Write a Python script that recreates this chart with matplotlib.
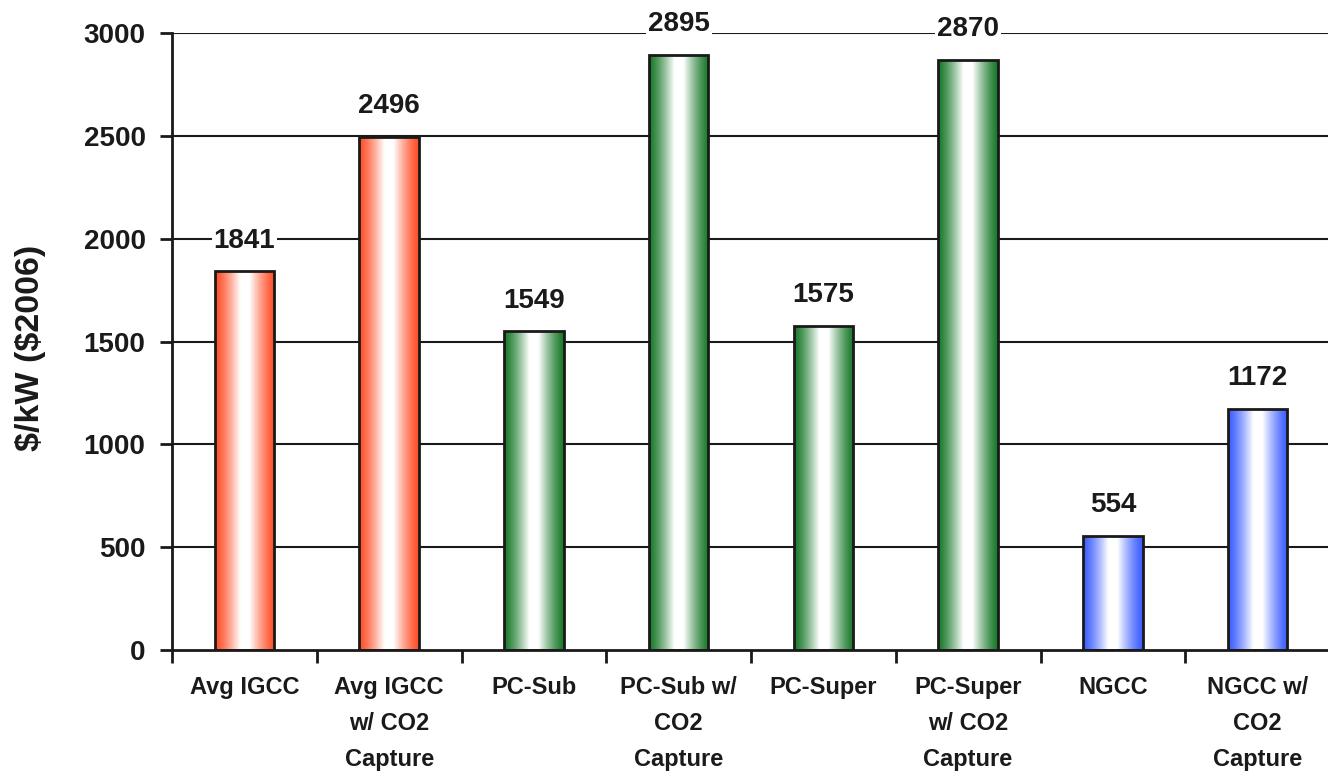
import numpy as np
import matplotlib
matplotlib.use("Agg")
import matplotlib.pyplot as plt
from matplotlib.colors import LinearSegmentedColormap

categories = ["Avg IGCC", "Avg IGCC\nw/ CO2\nCapture", "PC-Sub", "PC-Sub w/\nCO2\nCapture",
              "PC-Super", "PC-Super\nw/ CO2\nCapture", "NGCC", "NGCC w/\nCO2\nCapture"]
values = [1841, 2496, 1549, 2895, 1575, 2870, 554, 1172]
bar_colors = ["#ff4f28", "#ff4f28", "#1a7a2a", "#1a7a2a", "#1a7a2a", "#1a7a2a", "#3d5eff", "#3d5eff"]
yticks = [0, 500, 1000, 1500, 2000, 2500, 3000]

plt.rcParams['font.family'] = ['Liberation Sans', 'DejaVu Sans']
plt.rcParams['font.weight'] = 'bold'

fig = plt.figure(figsize=(13.28, 7.74), dpi=100)
ax = fig.add_axes([172/1328, 1 - 650/774, (1330-172)/1328, (650-33)/774])

n = len(categories)
x = np.arange(n)
width = 0.41
ax.set_xlim(-0.5, n - 0.5)
ax.set_ylim(0, 3000)

for yv in yticks[1:]:
    ax.axhline(yv, color="#1a1a1a", lw=1.5, zorder=0.5)

t = np.linspace(0, 1, 101)
grad = 1 - np.abs(t - 0.5) / 0.5          # 0 at edges, 1 at centre
grad = np.clip(grad / 0.85, 0, 1) ** 1.3
grad = grad.reshape(1, -1)
for xi, v, c in zip(x, values, bar_colors):
    cmap = LinearSegmentedColormap.from_list("g", [c, "#ffffff"])
    bars = ax.bar(xi, v, width=width, facecolor="none", edgecolor="#1a1a1a", lw=2, zorder=3)
    im = ax.imshow(grad, cmap=cmap, vmin=0, vmax=1, aspect="auto",
                   extent=[xi - width/2, xi + width/2, 0, v], zorder=2, interpolation="bicubic")
    im.set_clip_path(bars[0])
    ax.text(xi, v + 150, f"{v}", ha="center", va="center", fontsize=20, fontweight="bold",
            color="#1a1a1a", zorder=4,
            bbox=dict(facecolor="white", edgecolor="none", pad=1.5))

ax.set_xlim(-0.5, n - 0.5)
ax.set_ylim(0, 3000)

ax.set_yticks(yticks)
ax.set_yticklabels([str(t) for t in yticks], fontsize=20, fontweight="bold", color="#1a1a1a")
ax.set_xticks(np.arange(n + 1) - 0.5)
ax.set_xticklabels([])
ax.set_xticks(x, minor=True)
ax.set_xticklabels(categories, minor=True, fontsize=17, fontweight="bold", color="#1a1a1a",
                   linespacing=1.72, va="top")
ax.tick_params(axis="x", which="minor", length=0, pad=19)
ax.tick_params(axis="x", which="major", length=9, width=2, direction="out", color="#1a1a1a")
ax.tick_params(axis="y", length=9, width=2, direction="out", color="#1a1a1a", pad=10)

for s in ["top", "right"]:
    ax.spines[s].set_visible(False)
for s in ["left", "bottom"]:
    ax.spines[s].set_linewidth(2)
    ax.spines[s].set_color("#1a1a1a")

fig.text(31/1328, 1 - 348/774, "$/kW ($2006)", rotation=90, ha="center", va="center",
         fontsize=24.5, fontweight="bold", color="#1a1a1a", parse_math=False)

fig.savefig("out.png", dpi=100)
